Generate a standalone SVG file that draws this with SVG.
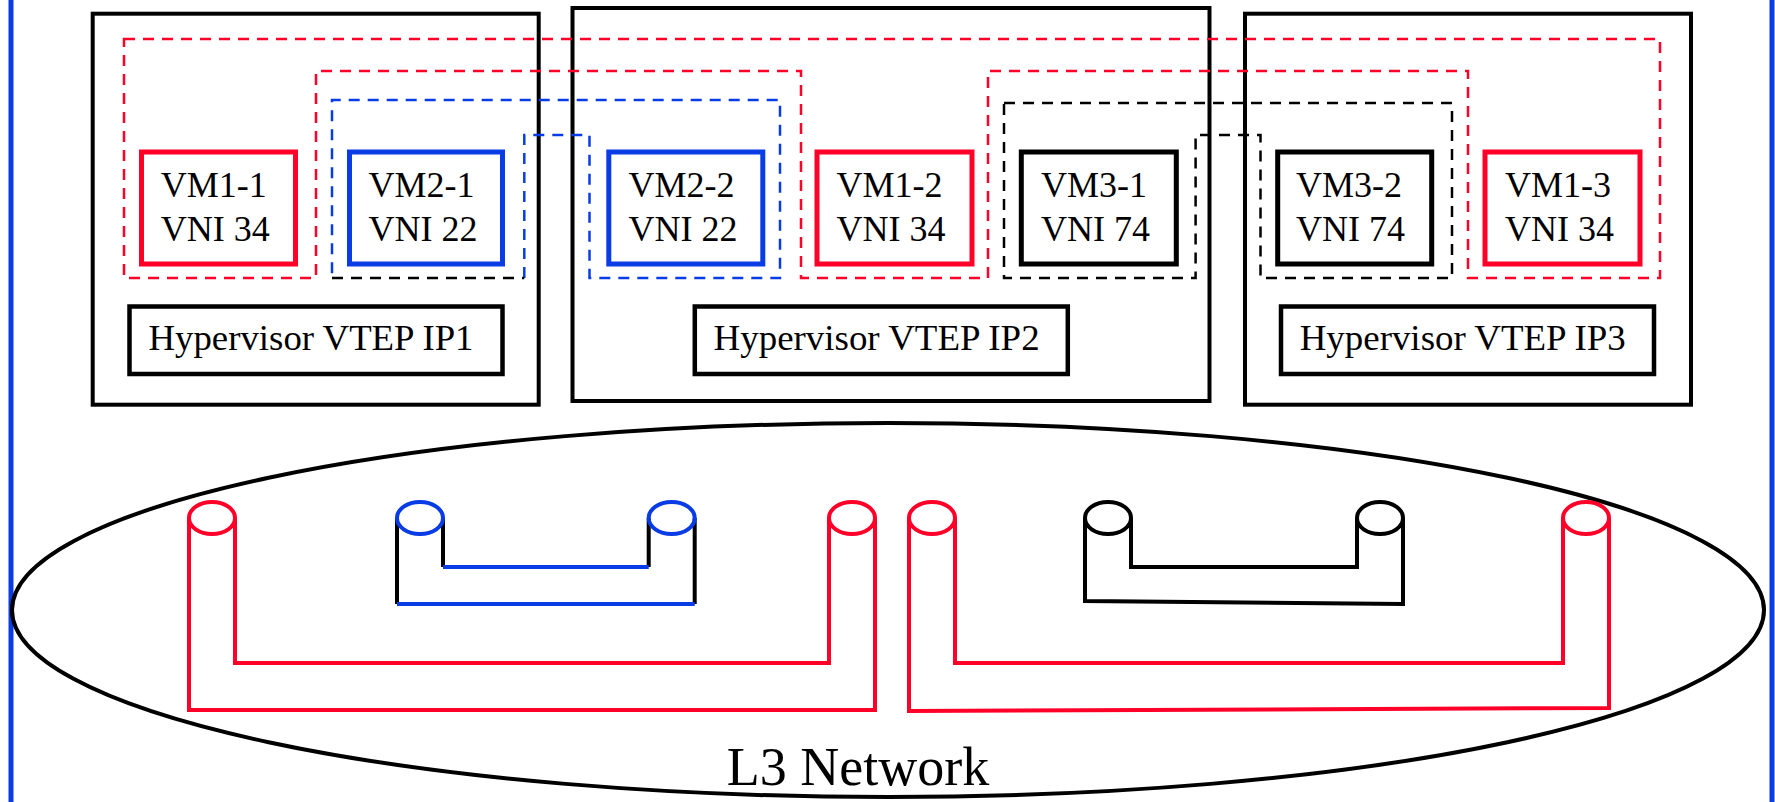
<svg xmlns="http://www.w3.org/2000/svg" width="1775" height="802" viewBox="0 0 1775 802">
<style>
text{font-family:"Liberation Serif","Times New Roman",serif;fill:#000}
.vm{font-size:36px}
.hv{font-size:35px}
.host{fill:none;stroke:#000;stroke-width:4}
.vmbox{fill:none;stroke-width:5}
.hvbox{fill:none;stroke:#000;stroke-width:4.5}
.r{stroke:#ff0029}
.b{stroke:#0a3ce6}
.k{stroke:#000}
.dash{fill:none;stroke-width:2.5;stroke-dasharray:11 8}
.pipe{fill:none;stroke-width:4}
</style>
<rect width="1775" height="802" fill="#fff"/>
<g id="borders">
<line x1="11" y1="0" x2="11" y2="802" stroke="#0a3ce6" stroke-width="5"/>
<line x1="1772" y1="0" x2="1772" y2="802" stroke="#0a3ce6" stroke-width="5"/>
</g>
<g id="host1"><rect class="host" x="92.7" y="13.7" width="446" height="391"/></g>
<g id="host2"><rect class="host" x="572.5" y="8" width="637" height="393"/></g>
<g id="host3"><rect class="host" x="1245" y="13.7" width="446" height="391"/></g>
<g id="overlays">
<path class="dash r" d="M124,39 H1660 V278 H1468 V71 H988 V278 H801 V71 H316 V278 H124 Z"/>
<path class="dash b" d="M524.3,278 V135 H589.5 V278 H780 V100 H332 V278"/>
<path class="dash k" d="M332,278 H524.3"/>
<path class="dash k" d="M1004,103 H1452 V278 H1260.5 V135 H1195.6 V278 H1004 Z"/>
</g>
<g id="vm1-1"><rect class="vmbox r" x="141.5" y="152" width="154" height="112"/><text class="vm" x="160.7" y="197">VM1-1</text><text class="vm" x="160.7" y="241">VNI 34</text></g>
<g id="vm2-1"><rect class="vmbox b" x="349.5" y="152" width="153" height="112"/><text class="vm" x="368.5" y="197">VM2-1</text><text class="vm" x="368.5" y="241">VNI 22</text></g>
<g id="vm2-2"><rect class="vmbox b" x="608.8" y="152" width="154" height="112"/><text class="vm" x="628.6" y="197">VM2-2</text><text class="vm" x="628.6" y="241">VNI 22</text></g>
<g id="vm1-2"><rect class="vmbox r" x="817" y="152" width="155" height="112"/><text class="vm" x="836.5" y="197">VM1-2</text><text class="vm" x="836.5" y="241">VNI 34</text></g>
<g id="vm3-1"><rect class="vmbox k" x="1021.3" y="152" width="155" height="112"/><text class="vm" x="1041" y="197">VM3-1</text><text class="vm" x="1041" y="241">VNI 74</text></g>
<g id="vm3-2"><rect class="vmbox k" x="1277.7" y="152" width="154" height="112"/><text class="vm" x="1296" y="197">VM3-2</text><text class="vm" x="1296" y="241">VNI 74</text></g>
<g id="vm1-3"><rect class="vmbox r" x="1485" y="152" width="155" height="112"/><text class="vm" x="1505" y="197">VM1-3</text><text class="vm" x="1505" y="241">VNI 34</text></g>
<g id="vtep1"><rect class="hvbox" x="129.5" y="306.5" width="373" height="67.5"/><text class="hv" x="148.5" y="350" textLength="325" lengthAdjust="spacingAndGlyphs">Hypervisor VTEP IP1</text></g>
<g id="vtep2"><rect class="hvbox" x="694.8" y="306.5" width="373" height="67.5"/><text class="hv" x="713.6" y="350" textLength="326" lengthAdjust="spacingAndGlyphs">Hypervisor VTEP IP2</text></g>
<g id="vtep3"><rect class="hvbox" x="1281" y="306.5" width="373" height="67.5"/><text class="hv" x="1299.7" y="350" textLength="326" lengthAdjust="spacingAndGlyphs">Hypervisor VTEP IP3</text></g>
<g id="l3network">
<ellipse cx="888" cy="610" rx="876" ry="187" fill="none" stroke="#000" stroke-width="4"/>
<text x="858" y="785" font-size="54" text-anchor="middle">L3 Network</text>
</g>
<g id="tunnels">
<path class="pipe r" d="M189,518 V710 H875 V518"/>
<path class="pipe r" d="M235,518 V663 H829 V518"/>
<path class="pipe r" d="M909,518 V711 L1609,708 V518"/>
<path class="pipe r" d="M955,518 V663 H1563 V518"/>
<path class="pipe k" d="M397,518 V604 M443,518 V567 M648.7,518 V567 M694.7,518 V604"/>
<path class="pipe b" d="M443,567 H648.7 M397,604 H694.7"/>
<path class="pipe k" d="M1085,518 V601 L1403,604 V518"/>
<path class="pipe k" d="M1131,518 V567 H1357 V518"/>
<ellipse class="pipe r" cx="212" cy="518" rx="23" ry="16"/>
<ellipse class="pipe b" cx="420" cy="518" rx="23" ry="16"/>
<ellipse class="pipe b" cx="671.7" cy="518" rx="23" ry="16"/>
<ellipse class="pipe r" cx="852" cy="518" rx="23" ry="16"/>
<ellipse class="pipe r" cx="932" cy="518" rx="23" ry="16"/>
<ellipse class="pipe k" cx="1108" cy="518" rx="23" ry="16"/>
<ellipse class="pipe k" cx="1380" cy="518" rx="23" ry="16"/>
<ellipse class="pipe r" cx="1586" cy="518" rx="23" ry="16"/>
</g>
</svg>
